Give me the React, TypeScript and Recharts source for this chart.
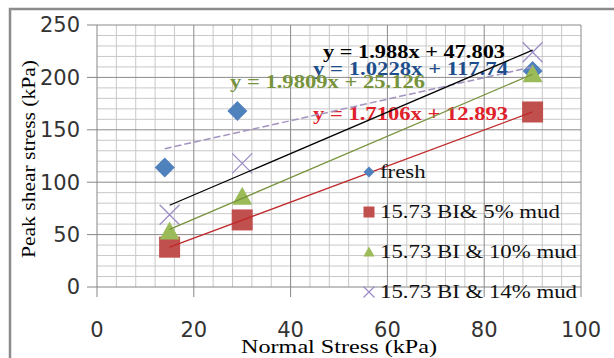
import React from "react";
import {
  ScatterChart,
  Scatter,
  XAxis,
  YAxis,
  Legend,
} from "recharts";

// measured points (normal stress kPa -> peak shear stress kPa)
const freshData = [
  { x: 14, y: 114 },
  { x: 29, y: 168 },
  { x: 90, y: 206 },
];
const mud5Data = [
  { x: 15, y: 38 },
  { x: 30, y: 64 },
  { x: 90, y: 167 },
];
const mud10Data = [
  { x: 15, y: 53 },
  { x: 30, y: 86 },
  { x: 90, y: 203 },
];
const mud14Data = [
  { x: 15, y: 69 },
  { x: 30, y: 118 },
  { x: 90, y: 224 },
];

// trendline end points
const freshTrend = [
  { x: 14, y: 132 },
  { x: 90, y: 210 },
];
const mud5Trend = [
  { x: 15, y: 38 },
  { x: 90, y: 167 },
];
const mud10Trend = [
  { x: 15, y: 55 },
  { x: 90, y: 203 },
];
const mud14Trend = [
  { x: 15, y: 78 },
  { x: 90, y: 226 },
];

const X_DOMAIN = [0, 100];
const Y_DOMAIN = [0, 250];
const xTicks = [0, 20, 40, 60, 80, 100];
const yTicks = [0, 50, 100, 150, 200, 250];
const xMinor = [4, 8, 12, 16, 24, 28, 32, 36, 44, 48, 52, 56, 64, 68, 72, 76, 84, 88, 92, 96];
const yMinor = [10, 20, 30, 40, 60, 70, 80, 90, 110, 120, 130, 140, 160, 170, 180, 190, 210, 220, 230, 240];

const seriesNames = ["fresh", "15.73 BI& 5% mud", "15.73 BI & 10% mud", "15.73 BI & 14% mud"];

const equations = [
  { text: "y = 1.988x + 47.803", color: "#000000", x: 323, y: 52, w: 182 },
  { text: "y = 1.0228x + 117.74", color: "#1f4e8c", x: 313, y: 69, w: 195 },
  { text: "y = 1.9809x + 25.126", color: "#77933c", x: 230, y: 82, w: 195 },
  { text: "y = 1.7106x + 12.893", color: "#e0202a", x: 313, y: 114, w: 195 },
];

const W = 614;
const H = 358;
const MARGIN = { top: 25, right: 33, bottom: 21, left: 10 };
const Y_AXIS_W = 87;
const X_AXIS_H = 50;
const PLOT = {
  left: MARGIN.left + Y_AXIS_W,
  top: MARGIN.top,
  width: W - MARGIN.left - MARGIN.right - Y_AXIS_W,
  height: H - MARGIN.top - MARGIN.bottom - X_AXIS_H,
};

const BLUE = "#4f81bd";
const RED = "#c0504d";
const GREEN = "#9bbb59";
const PURPLE = "#9d8cc6";
const MINOR = "#c8c8c8";
const MAJOR = "#8a8a8a";

const Diamond = ({ cx, cy, r = 10 }: any) => (
  <path d={`M${cx},${cy - r}L${cx + r},${cy}L${cx},${cy + r}L${cx - r},${cy}Z`} fill={BLUE} />
);
const Square = ({ cx, cy, r = 10.5 }: any) => (
  <rect x={cx - r} y={cy - r} width={r * 2} height={r * 2} fill={RED} />
);
const Triangle = ({ cx, cy, r = 10 }: any) => (
  <path d={`M${cx},${cy - r}L${cx + r},${cy + r * 0.8}L${cx - r},${cy + r * 0.8}Z`} fill={GREEN} />
);
const Cross = ({ cx, cy, r = 10 }: any) => (
  <path
    d={`M${cx - r},${cy - r}L${cx + r},${cy + r}M${cx - r},${cy + r}L${cx + r},${cy - r}`}
    stroke={PURPLE}
    strokeWidth={1.3}
    fill="none"
  />
);
const NoDot = () => <g />;

const legendMarkers = [Diamond, Square, Triangle, Cross];

const LegendBox = (props: any) => {
  const payload = (props && props.payload) || [];
  return (
    <div style={{ position: "relative" }}>
      {seriesNames.map((name, i) => {
        const Marker = legendMarkers[i];
        const entry = payload.find((p: any) => p && p.value === name);
        return (
          <div key={name} style={{ position: "absolute", left: 0, top: i * 40, height: 40, width: 260 }}>
            <svg width={16} height={16} style={{ position: "absolute", left: 2, top: 12 }}>
              <Marker cx={8} cy={8} r={5.5} />
            </svg>
            <span
              style={{
                position: "absolute",
                left: 21,
                top: 9,
                fontFamily: "'Liberation Serif', serif",
                fontSize: 19,
                lineHeight: "22px",
                whiteSpace: "pre",
                color: "#111",
                transform: "scaleX(1.2)",
                transformOrigin: "left center",
              }}
            >
              {entry ? entry.value : name}
            </span>
          </div>
        );
      })}
    </div>
  );
};

// background grid, drawn in its own svg underneath the chart
const gx = (v: number) => PLOT.left + (PLOT.width * (v - X_DOMAIN[0])) / (X_DOMAIN[1] - X_DOMAIN[0]);
const gy = (v: number) => PLOT.top + PLOT.height - (PLOT.height * (v - Y_DOMAIN[0])) / (Y_DOMAIN[1] - Y_DOMAIN[0]);

const GridBackground = () => (
  <svg width={W} height={H} style={{ position: "absolute", left: 0, top: 0 }}>
    {xMinor.map((v) => (
      <line key={`xm${v}`} x1={gx(v)} x2={gx(v)} y1={PLOT.top} y2={PLOT.top + PLOT.height} stroke={MINOR} strokeWidth={1} />
    ))}
    {yMinor.map((v) => (
      <line key={`ym${v}`} x1={PLOT.left} x2={PLOT.left + PLOT.width} y1={gy(v)} y2={gy(v)} stroke={MINOR} strokeWidth={1} />
    ))}
    {xTicks.slice(1).map((v) => (
      <line key={`xM${v}`} x1={gx(v)} x2={gx(v)} y1={PLOT.top} y2={PLOT.top + PLOT.height} stroke={MAJOR} strokeWidth={1} />
    ))}
    {yTicks.slice(1).map((v) => (
      <line key={`yM${v}`} x1={PLOT.left} x2={PLOT.left + PLOT.width} y1={gy(v)} y2={gy(v)} stroke={MAJOR} strokeWidth={1} />
    ))}
    <path d="M10,358L10,9L614,9" stroke="#8c8c8c" strokeWidth={2.5} fill="none" />
  </svg>
);

const Decorations = () => (
  <g>
    {equations.map((e) => (
      <text
        key={e.text}
        x={e.x}
        y={e.y + 6}
        textLength={e.w}
        lengthAdjust="spacingAndGlyphs"
        fill={e.color}
        fontFamily="'Liberation Serif', serif"
        fontWeight="bold"
        fontSize={18}
      >
        {e.text}
      </text>
    ))}
    <text
      x={241}
      y={353}
      textLength={196}
      lengthAdjust="spacingAndGlyphs"
      fontFamily="'Liberation Serif', serif"
      fontSize={19}
      fill="#000"
    >
      Normal Stress (kPa)
    </text>
    <text
      transform="translate(35,258) rotate(-90)"
      textLength={198}
      lengthAdjust="spacingAndGlyphs"
      fontFamily="'Liberation Serif', serif"
      fontSize={19}
      fill="#000"
    >
      Peak shear stress (kPa)
    </text>
  </g>
);

const tickStyle = { fontFamily: "'DejaVu Sans', sans-serif", fontSize: 21, fill: "#333" };

export default function App() {
  return (
    <div style={{ position: "absolute", left: 0, top: 0, width: W, height: H, background: "#fff" }}>
      <GridBackground />
      <div style={{ position: "absolute", left: 0, top: 0, width: W, height: H }}>
        <ScatterChart width={W} height={H} margin={MARGIN}>
          <XAxis
            type="number"
            dataKey="x"
            domain={X_DOMAIN}
            ticks={xTicks}
            height={X_AXIS_H}
            tickSize={10}
            tickMargin={25}
            axisLine={{ stroke: "#868686" }}
            tickLine={{ stroke: "#868686" }}
            tick={tickStyle}
          />
          <YAxis
            type="number"
            dataKey="y"
            domain={Y_DOMAIN}
            ticks={yTicks}
            width={Y_AXIS_W}
            tickSize={10}
            tickMargin={7}
            axisLine={{ stroke: "#868686" }}
            tickLine={{ stroke: "#868686" }}
            tick={tickStyle}
          />
          <Scatter name={seriesNames[0]} data={freshData} fill={BLUE} shape={Diamond} isAnimationActive={false} />
          <Scatter name={seriesNames[1]} data={mud5Data} fill={RED} shape={Square} isAnimationActive={false} />
          <Scatter name={seriesNames[2]} data={mud10Data} fill={GREEN} shape={Triangle} isAnimationActive={false} />
          <Scatter name={seriesNames[3]} data={mud14Data} fill={PURPLE} shape={Cross} isAnimationActive={false} />
          <Scatter
            data={freshTrend}
            line={{ stroke: "#a393c0", strokeWidth: 1.5, strokeDasharray: "7 3" }}
            shape={NoDot}
            legendType="none"
            isAnimationActive={false}
          />
          <Scatter data={mud5Trend} line={{ stroke: "#c0282a", strokeWidth: 1.3 }} shape={NoDot} legendType="none" isAnimationActive={false} />
          <Scatter data={mud10Trend} line={{ stroke: "#77933c", strokeWidth: 1.3 }} shape={NoDot} legendType="none" isAnimationActive={false} />
          <Scatter data={mud14Trend} line={{ stroke: "#000000", strokeWidth: 1.3 }} shape={NoDot} legendType="none" isAnimationActive={false} />
          <Legend
            layout="vertical"
            align="center"
            verticalAlign="middle"
            content={LegendBox}
            wrapperStyle={{ left: 359, top: 152, width: 260, height: 160 }}
          />
          <Decorations />
        </ScatterChart>
      </div>
    </div>
  );
}
